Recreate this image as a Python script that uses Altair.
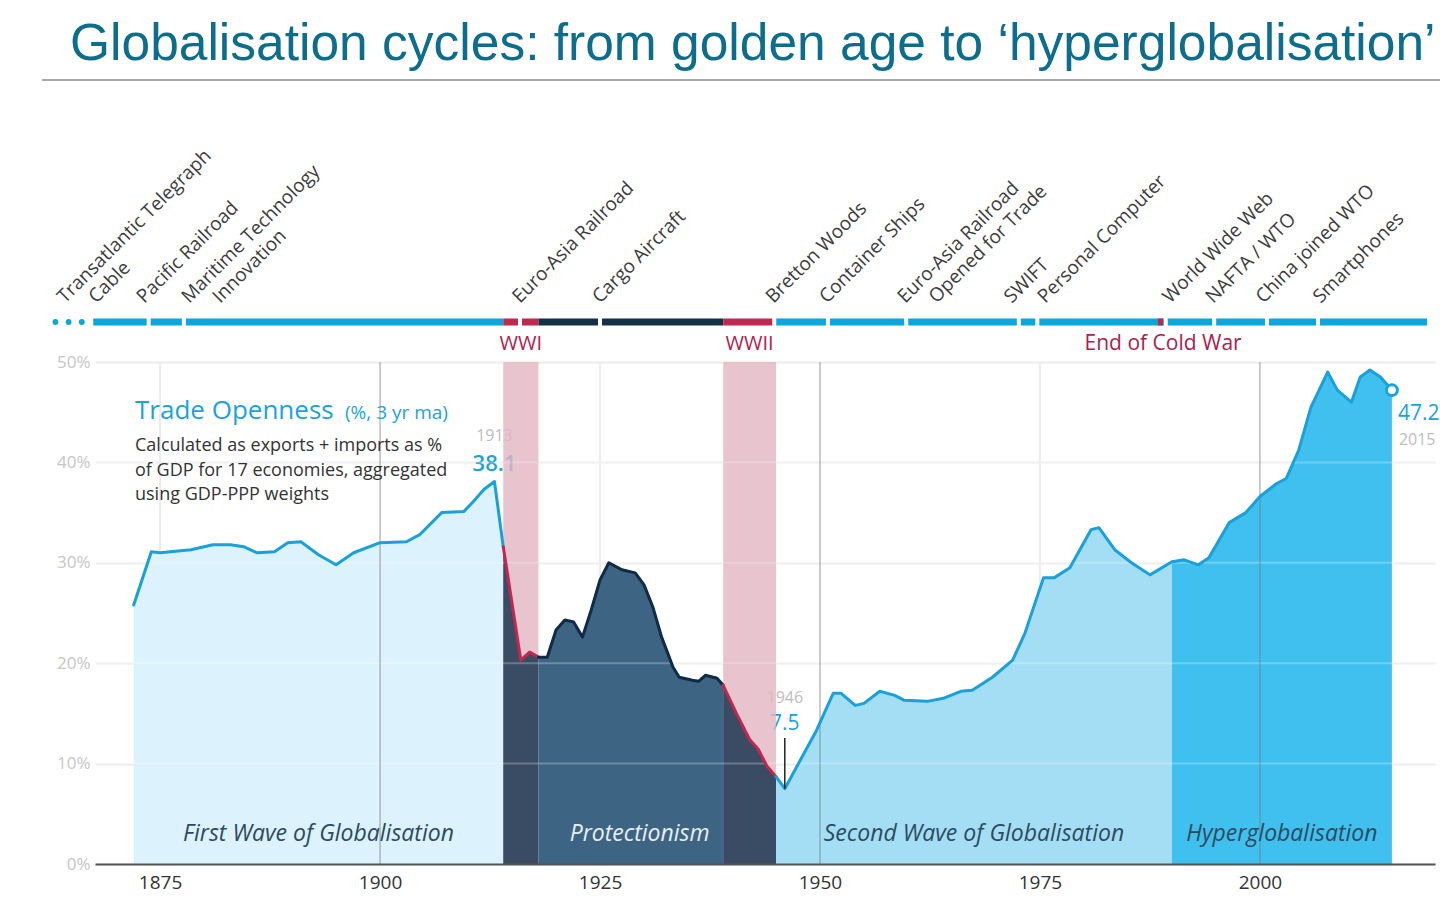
import altair as alt
import pandas as pd

# ---------------- data ----------------
years = [1872, 1874, 1875, 1878.5, 1881, 1883, 1884.5, 1886, 1888, 1889.5, 1891, 1893, 1895, 1897,
         1900, 1903, 1904.5, 1907, 1909.5, 1910.5, 1911.8, 1913, 1914, 1916, 1917, 1918, 1919,
         1920, 1921, 1922, 1923, 1924, 1925, 1926, 1927.5, 1929, 1930, 1931, 1932, 1933.3, 1934,
         1935.5, 1936.2, 1937, 1938.3, 1939, 1940.5, 1942, 1943, 1944, 1945, 1946, 1947.8, 1949.6,
         1951.5, 1952.4, 1954, 1955, 1956.8, 1958.5, 1959.6, 1962.2, 1964, 1966, 1967.3, 1969.6,
         1971.9, 1973.3, 1975.4, 1976.6, 1978.4, 1980.8, 1981.7, 1983.5, 1985.4, 1987.5, 1990,
         1991.4, 1993, 1994.2, 1996.5, 1998.4, 2000, 2001.9, 2003, 2004.4, 2005.8, 2007.7, 2008.8,
         2010.4, 2011.4, 2012.5, 2013.7, 2015]
values = [25.8, 31.1, 31.0, 31.3, 31.8, 31.8, 31.6, 31.0, 31.1, 32.0, 32.1, 30.8, 29.8, 31.0,
          32.0, 32.1, 32.8, 35.0, 35.1, 36.0, 37.3, 38.1, 31.6, 20.3, 21.1, 20.6, 20.6,
          23.3, 24.3, 24.1, 22.6, 25.3, 28.3, 30.0, 29.3, 29.0, 27.8, 25.6, 22.6, 19.6, 18.6,
          18.3, 18.2, 18.8, 18.5, 17.8, 15.0, 12.4, 11.4, 9.7, 8.7, 7.5, 10.4, 13.3,
          17.0, 17.0, 15.8, 16.0, 17.2, 16.8, 16.3, 16.2, 16.5, 17.2, 17.3, 18.6,
          20.3, 23.0, 28.5, 28.5, 29.5, 33.3, 33.5, 31.3, 30.0, 28.8, 30.1,
          30.3, 29.8, 30.5, 34.0, 35.0, 36.6, 37.9, 38.4, 41.2, 45.5, 49.0, 47.2,
          46.0, 48.5, 49.2, 48.5, 47.2]

period_names = ["First Wave of Globalisation", "Protectionism", "Second Wave of Globalisation", "Hyperglobalisation"]
period_start = [1872, 1914, 1945, 1990]
period_end = [1914, 1945, 1990, 2015]
period_text_color = ["#2d4b60", "#e8eff4", "#2d4b60", "#2d4b60"]

fill_start = [1872, 1914, 1918, 1939, 1945, 1990]
fill_end = [1914, 1918, 1939, 1945, 1990, 2015]
fill_color = ["#dcf2fc", "#394c63", "#3d6583", "#394c63", "#a4def5", "#3fc0ef"]

line_start = [1872, 1914, 1918, 1939, 1945]
line_end = [1914, 1918, 1939, 1945, 2015]
line_color = ["#1aa0da", "#c4264f", "#0f2b45", "#c4264f", "#1aa0da"]

war_names = ["WWI", "WWII"]
war_start = [1914, 1939]
war_end = [1918, 1945]

bar_start = [1867.4, 1914, 1918, 1939, 1945]
bar_end = [1914, 1918, 1939, 1945, 2019]
bar_color = ["#0aa6de", "#c0294f", "#143049", "#c0294f", "#0aa6de"]
lead_dots = [1863.1, 1864.6, 1866.1]
cold_war_start, cold_war_end = 1988.4, 1989.0

event_line1 = ["Transatlantic Telegraph", "Pacific Railroad", "Maritime Technology", "Euro-Asia Railroad",
               "Cargo Aircraft", "Bretton Woods", "Container Ships", "Euro-Asia Railroad", "SWIFT",
               "Personal Computer", "World Wide Web", "NAFTA / WTO", "China joined WTO", "Smartphones"]
event_line2 = ["Cable", "", "Innovation", "", "", "", "", "Opened for Trade", "", "", "", "", "", ""]
event_years = [1866.8, 1873.7, 1877.7, 1915.9, 1925.0, 1944.8, 1950.9, 1959.8, 1972.6, 1974.7,
               1989.3, 1994.8, 2000.8, 2006.6]
label_years = [1863.4, 1872.4, 1877.5, 1915.1, 1924.2, 1943.9, 1950.0, 1958.9, 1971.0, 1974.8,
               1989.0, 1993.9, 1999.6, 2006.1]

x_ticks = [1875, 1900, 1925, 1950, 1975, 2000]
y_ticks = [0, 10, 20, 30, 40, 50]
major_vlines = [1900, 1950, 2000]
minor_vlines = [1875, 1925, 1975]

peak_year, peak_value = 1913, 38.1
low_year, low_value = 1946, 7.5
last_year, last_value = 2015, 47.2

title = "Globalisation cycles: from golden age to \u2018hyperglobalisation\u2019"
legend_title = "Trade Openness"
legend_sub = "(%, 3 yr ma)"
legend_lines = ["Calculated as exports + imports as %",
                "of GDP for 17 economies, aggregated",
                "using GDP-PPP weights"]

# ---------------- helpers ----------------
FONT = "Open Sans"
W, H = 1340, 502
xscale = alt.Scale(domain=[1867.6, 2019.9], nice=False, zero=False)
yscale = alt.Scale(domain=[0, 50], nice=False, zero=False)
xaxis = alt.Axis(values=x_ticks, format="d", labelFontSize=19, labelColor="#333333", labelFont=FONT,
                 domainColor="#555555", domainWidth=2, ticks=False, tickSize=0, labelPadding=9,
                 grid=False, title=None, zindex=1)
yaxis = alt.Axis(values=y_ticks, labelExpr="datum.value + '%'", labelColor="#c6c6c6", labelFontSize=17,
                 labelFont=FONT, domain=False, ticks=False, tickSize=0, labelPadding=5, grid=True,
                 gridColor="#ececec", gridWidth=2, title=None)


def X(field="year"):
    return alt.X(f"{field}:Q", scale=xscale, axis=xaxis)


def Y(field="value"):
    return alt.Y(f"{field}:Q", scale=yscale, axis=yaxis, stack=None)


def segments(starts, ends, colors, name):
    rows = []
    for i, (s, e, c) in enumerate(zip(starts, ends, colors)):
        for yr, v in zip(years, values):
            if s <= yr <= e:
                rows.append({"year": yr, "value": v, "seg": f"{name}{i}", "color": c})
    return pd.DataFrame(rows)


def fixed_text(text, x, y, **kw):
    return alt.Chart(pd.DataFrame({"t": [text]})).mark_text(**kw).encode(
        x=alt.value(x), y=alt.value(y), text="t:N")


area_df = segments(fill_start, fill_end, fill_color, "a")
line_df = segments(line_start, line_end, line_color, "l")
wars = pd.DataFrame({"name": war_names, "start": war_start, "end": war_end,
                     "mid": [(a + b) / 2 for a, b in zip(war_start, war_end)]})
periods = pd.DataFrame({"name": period_names, "mid": [(a + b) / 2 for a, b in zip(period_start, period_end)],
                        "c": period_text_color})
bars = pd.DataFrame({"start": bar_start, "end": bar_end, "c": bar_color})
events = pd.DataFrame({"year": event_years, "ly": label_years, "l1": event_line1, "l2": event_line2})
events2 = events[events["l2"] != ""]

# ---------------- layers ----------------
minor = alt.Chart(pd.DataFrame({"year": minor_vlines})).mark_rule(color="#ececec", strokeWidth=2).encode(
    x=X(), y=alt.value(0), y2=alt.value(H))

pt = pd.DataFrame({"year": [peak_year], "value": [peak_value], "lab": [f"{peak_value}"], "yr": [str(peak_year)]})
lo = pd.DataFrame({"year": [low_year], "value": [low_value], "lab": [f"{low_value}"], "yr": [str(low_year)]})
la = pd.DataFrame({"year": [last_year], "value": [last_value], "lab": [f"{last_value}"], "yr": [str(last_year)]})

peak_yr = alt.Chart(pt).mark_text(font=FONT, fontSize=16, color="#bdbdbd", dy=-40, align="center",
                                  baseline="alphabetic").encode(x=X(), y=Y(), text="yr:N")
peak_val = alt.Chart(pt).mark_text(font=FONT, fontSize=22, fontWeight=600, color="#1ba3dc", dy=-10,
                                   align="center", baseline="alphabetic").encode(x=X(), y=Y(), text="lab:N")
low_yr = alt.Chart(lo).mark_text(font=FONT, fontSize=16, color="#bdbdbd", dy=-86, align="center",
                                 baseline="alphabetic").encode(x=X(), y=Y(), text="yr:N")
low_val = alt.Chart(lo).mark_text(font=FONT, fontSize=21, color="#1ba3dc", dy=-59, align="center",
                                  baseline="alphabetic").encode(x=X(), y=Y(), text="lab:N")

war_band = alt.Chart(wars).mark_rect(color="#e2b5c3", opacity=0.8).encode(
    x=X("start"), x2="end:Q", y=alt.value(0), y2=alt.value(H))

area = alt.Chart(area_df).mark_area(interpolate="linear").encode(
    x=X(), y=Y(), color=alt.Color("color:N", scale=None), detail="seg:N")

grid_over = alt.Chart(pd.DataFrame({"value": [10, 20, 30, 40]})).mark_rule(
    color="white", opacity=0.25, strokeWidth=2).encode(y=Y(), x=alt.value(0), x2=alt.value(W))

major = alt.Chart(pd.DataFrame({"year": major_vlines})).mark_rule(
    color="#777777", opacity=0.5, strokeWidth=1.5).encode(x=X(), y=alt.value(0), y2=alt.value(H))

line = alt.Chart(line_df).mark_line(strokeWidth=3, strokeJoin="round", strokeCap="round").encode(
    x=X(), y=Y(), color=alt.Color("color:N", scale=None), detail="seg:N")

period_lab = alt.Chart(periods).mark_text(font=FONT, fontSize=23, fontStyle="italic", align="center",
                                          baseline="alphabetic").encode(
    x=X("mid"), y=alt.value(479), text="name:N", color=alt.Color("c:N", scale=None))

low_rule = alt.Chart(lo).mark_rule(color="#222222", strokeWidth=1.5).encode(
    x=X(), y=Y(), y2=alt.value(376))

end_pt = alt.Chart(la).mark_point(shape="circle", filled=True, fill="white", stroke="#1ba3dc",
                                  strokeWidth=3, size=120, opacity=1).encode(x=X(), y=Y())
end_val = alt.Chart(la).mark_text(font=FONT, fontSize=21, color="#1ba3dc", dx=6, dy=30, align="left",
                                  baseline="alphabetic").encode(x=X(), y=Y(), text="lab:N")
end_yr = alt.Chart(la).mark_text(font=FONT, fontSize=16, color="#bdbdbd", dx=7, dy=55, align="left",
                                 baseline="alphabetic").encode(x=X(), y=Y(), text="yr:N")

bar = alt.Chart(bars).mark_rule(strokeWidth=7).encode(
    x=X("start"), x2="end:Q", y=alt.value(-40), color=alt.Color("c:N", scale=None))
dots = alt.Chart(pd.DataFrame({"year": lead_dots})).mark_circle(size=34, color="#0aa6de", opacity=1).encode(
    x=X(), y=alt.value(-40))
gaps = alt.Chart(events).mark_rule(color="white", strokeWidth=4).encode(
    x=X(), y=alt.value(-45), y2=alt.value(-35))
cold = alt.Chart(pd.DataFrame({"start": [cold_war_start], "end": [cold_war_end]})).mark_rule(
    color="#c0294f", strokeWidth=7).encode(x=X("start"), x2="end:Q", y=alt.value(-40))

ev1 = alt.Chart(events).mark_text(font=FONT, fontSize=19, color="#3c3c3c", angle=315, align="left",
                                  baseline="alphabetic", dx=5, dy=5).encode(
    x=X("ly"), y=alt.value(-58), text="l1:N")
ev2 = alt.Chart(events2).mark_text(font=FONT, fontSize=19, color="#3c3c3c", angle=315, align="left",
                                   baseline="alphabetic", dx=27, dy=27).encode(
    x=X("ly"), y=alt.value(-58), text="l2:N")

war_lab = alt.Chart(wars).mark_text(font=FONT, fontSize=20, color="#b0224f", align="center",
                                    baseline="alphabetic").encode(x=X("mid"), y=alt.value(-12), text="name:N")
cold_lab = alt.Chart(pd.DataFrame({"year": [1989], "t": ["End of Cold War"]})).mark_text(
    font=FONT, fontSize=21, color="#a8234d", align="center", baseline="alphabetic").encode(
    x=X(), y=alt.value(-12), text="t:N")

title_t = fixed_text(title, -25, -302, font="Liberation Sans", fontSize=51.5, color="#0d6d8d",
                     align="left", baseline="alphabetic")
title_rule = alt.Chart(pd.DataFrame({"a": [0]})).mark_rule(color="#8c8c8c", strokeWidth=1.5).encode(
    x=alt.value(-53), x2=alt.value(1345), y=alt.value(-282))
leg_t = fixed_text(legend_title, 40, 57, font=FONT, fontSize=26, color="#1ba3dc", align="left",
                   baseline="alphabetic")
leg_s = fixed_text(legend_sub, 250, 57, font=FONT, fontSize=19, color="#1ba3dc", align="left",
                   baseline="alphabetic")
leg_lines = [fixed_text(t, 40, 89 + i * 24.5, font=FONT, fontSize=18, color="#333333", align="left",
                        baseline="alphabetic") for i, t in enumerate(legend_lines)]

chart = alt.layer(
    minor, peak_yr, peak_val, low_yr, low_val, war_band, area, grid_over, major, line,
    period_lab, low_rule, end_pt, end_val, end_yr, bar, dots, gaps, cold, ev1, ev2,
    war_lab, cold_lab, title_t, title_rule, leg_t, leg_s, *leg_lines
).properties(
    width=W, height=H,
    autosize=alt.AutoSizeParams(type="none"),
    padding={"left": 95, "top": 362, "right": 5, "bottom": 58},
    background="white",
).configure_view(stroke=None)

chart.save("out.html", embed_options={"renderer": "svg", "actions": False})
